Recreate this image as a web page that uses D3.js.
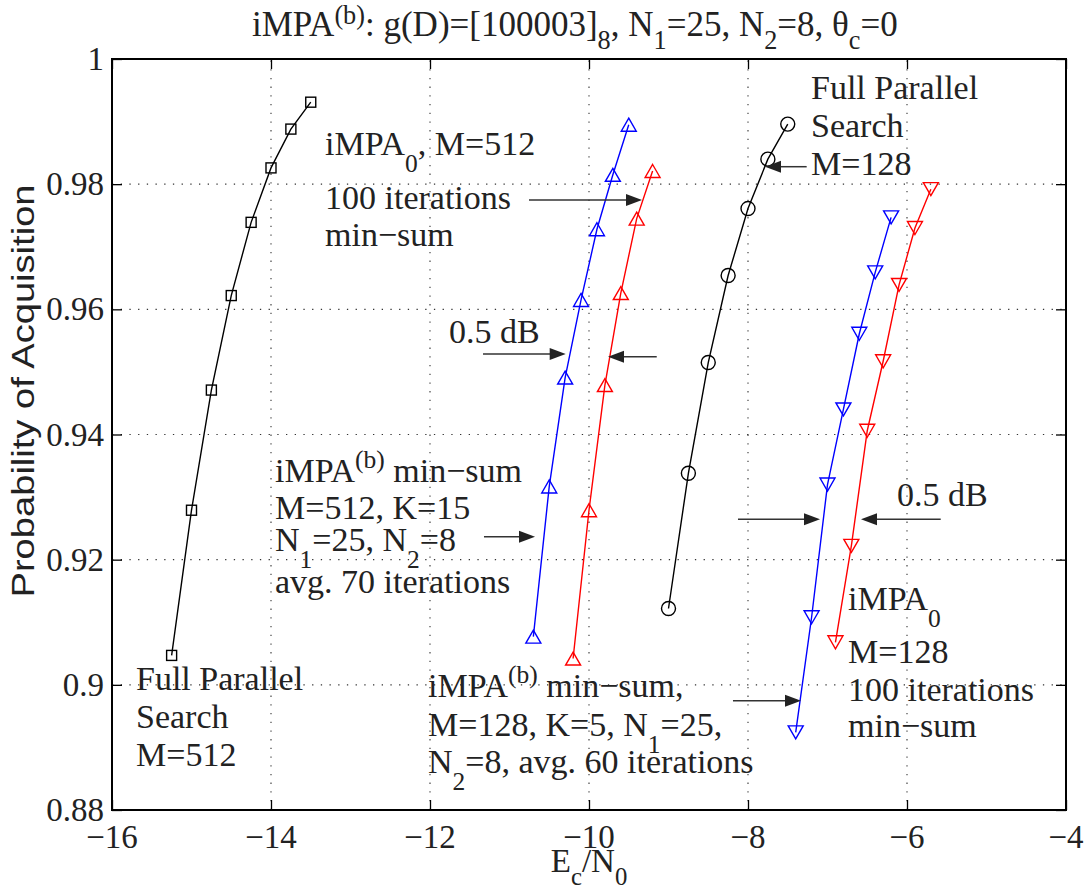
<!DOCTYPE html>
<html><head><meta charset="utf-8">
<script src="https://cdn.jsdelivr.net/npm/d3@7"></script>
<style>body{margin:0;background:#fff} svg{display:block}</style>
</head><body><svg id="c" width="1088" height="895"></svg>
<script>
// ---- data ----
const xTicks = [-16, -14, -12, -10, -8, -6, -4];
const xTickLabels = ["\u221216", "\u221214", "\u221212", "\u221210", "\u22128", "\u22126", "\u22124"];
const yTicks = [0.88, 0.9, 0.92, 0.94, 0.96, 0.98, 1];
const yTickLabels = ["0.88", "0.9", "0.92", "0.94", "0.96", "0.98", "1"];

const fps512X = [-15.25, -15, -14.75, -14.5, -14.25, -14, -13.75, -13.5];
const fps512Y = [0.9047, 0.9279, 0.9471, 0.9622, 0.9739, 0.9826, 0.9888, 0.9931];
const impab512X = [-10.7, -10.5, -10.3, -10.1, -9.9, -9.7, -9.5];
const impab512Y = [0.9077, 0.9317, 0.9491, 0.9615, 0.9728, 0.9815, 0.9895];
const impa0512X = [-10.2, -10.0, -9.8, -9.6, -9.4, -9.2];
const impa0512Y = [0.9042, 0.9279, 0.9479, 0.9626, 0.9745, 0.9821];
const fps128X = [-9, -8.75, -8.5, -8.25, -8, -7.75, -7.5];
const fps128Y = [0.9122, 0.9338, 0.9515, 0.9654, 0.9761, 0.984, 0.9896];
const impab128X = [-7.4, -7.2, -7.0, -6.8, -6.6, -6.4, -6.2];
const impab128Y = [0.8924, 0.9108, 0.932, 0.944, 0.9561, 0.9659, 0.9747];
const impa0128X = [-6.9, -6.7, -6.5, -6.3, -6.1, -5.9, -5.7];
const impa0128Y = [0.9068, 0.9222, 0.9406, 0.9517, 0.9639, 0.973, 0.9792];

// arrows (data units): [x1, x2, y]
const arrows = [
  [-10.755, -9.333, 0.97747],
  [-7.262, -7.786, 0.98279],
  [-11.333, -10.293, 0.95286],
  [-9.148, -9.761, 0.95243],
  [-11.321, -10.679, 0.92367],
  [-8.126, -7.094, 0.92645],
  [-5.576, -6.579, 0.92645],
  [-8.189, -7.333, 0.89746]
];

// ---- layout ----
const W = 1088, H = 895;
const L = 112, R = 1066, T = 59, B = 810;
const FS = 34;
const serif = "'Liberation Serif','Times New Roman',serif";
const svg = d3.select("#c");
const x = d3.scaleLinear().domain([-16, -4]).range([L, R]);
const y = d3.scaleLinear().domain([0.88, 1]).range([B, T]);

// grid
const grid = svg.append("g").attr("stroke", "#333").attr("stroke-width", 1.1).attr("stroke-dasharray", "1.3,7.4");
xTicks.slice(1, -1).forEach(v => grid.append("line").attr("x1", x(v)).attr("x2", x(v)).attr("y1", B).attr("y2", T));
yTicks.slice(1, -1).forEach(v => grid.append("line").attr("x1", L).attr("x2", R).attr("y1", y(v)).attr("y2", y(v)));

// axes with inward ticks
const axG = svg.append("g");
axG.append("g").attr("transform", `translate(0,${B})`).call(d3.axisBottom(x).tickValues(xTicks).tickSizeInner(-10).tickSizeOuter(0).tickFormat(""));
axG.append("g").attr("transform", `translate(0,${T})`).call(d3.axisTop(x).tickValues(xTicks).tickSizeInner(-10).tickSizeOuter(0).tickFormat(""));
axG.append("g").attr("transform", `translate(${L},0)`).call(d3.axisLeft(y).tickValues(yTicks).tickSizeInner(-10).tickSizeOuter(0).tickFormat(""));
axG.append("g").attr("transform", `translate(${R},0)`).call(d3.axisRight(y).tickValues(yTicks).tickSizeInner(-10).tickSizeOuter(0).tickFormat(""));
axG.selectAll(".domain").remove();
axG.selectAll(".tick line").attr("stroke", "#000").attr("stroke-width", 1.3);
svg.append("rect").attr("x", L).attr("y", T).attr("width", R - L).attr("height", B - T)
  .attr("fill", "none").attr("stroke", "#000").attr("stroke-width", 2);

// tick labels
const tl = svg.append("g").attr("font-family", serif).attr("font-size", 33).attr("fill", "#222");
xTicks.forEach((v, i) => tl.append("text").attr("x", x(v)).attr("y", 848).attr("text-anchor", "middle").text(xTickLabels[i]));
yTicks.forEach((v, i) => tl.append("text").attr("x", 104).attr("y", y(v) + 11).attr("text-anchor", "end").text(yTickLabels[i]));

// series
const series = [
  {xs: fps512X, ys: fps512Y, color: "#000", m: "square"},
  {xs: impab512X, ys: impab512Y, color: "#0000ff", m: "up"},
  {xs: impa0512X, ys: impa0512Y, color: "#ff0000", m: "up"},
  {xs: fps128X, ys: fps128Y, color: "#000", m: "circle"},
  {xs: impab128X, ys: impab128Y, color: "#0000ff", m: "down"},
  {xs: impa0128X, ys: impa0128Y, color: "#ff0000", m: "down"}
];
const line = d3.line().x(d => x(d[0])).y(d => y(d[1]));
series.forEach(s => {
  const pts = s.xs.map((v, i) => [v, s.ys[i]]);
  const g = svg.append("g");
  g.append("path").attr("d", line(pts)).attr("fill", "none").attr("stroke", s.color).attr("stroke-width", 1.4);
  pts.forEach(p => {
    const cx = x(p[0]), cy = y(p[1]);
    let el;
    if (s.m === "square") el = g.append("rect").attr("x", cx - 5).attr("y", cy - 5).attr("width", 10).attr("height", 10);
    else if (s.m === "circle") el = g.append("circle").attr("cx", cx).attr("cy", cy).attr("r", 7);
    else if (s.m === "up") el = g.append("path").attr("d", `M${cx},${cy - 6.5}L${cx + 7.5},${cy + 6.5}L${cx - 7.5},${cy + 6.5}Z`);
    else el = g.append("path").attr("d", `M${cx},${cy + 6.5}L${cx + 7.5},${cy - 6.5}L${cx - 7.5},${cy - 6.5}Z`);
    el.attr("fill", "none").attr("stroke", s.color).attr("stroke-width", 1.4);
  });
});

// arrows
arrows.forEach(a => {
  const x1 = x(a[0]), x2 = x(a[1]), yy = y(a[2]);
  const dir = Math.sign(x2 - x1);
  const g = svg.append("g");
  g.append("line").attr("x1", x1).attr("x2", x2 - dir * 12).attr("y1", yy).attr("y2", yy).attr("stroke", "#333").attr("stroke-width", 1.5);
  g.append("path").attr("d", `M${x2},${yy}L${x2 - dir * 16},${yy - 6}L${x2 - dir * 16},${yy + 6}Z`).attr("fill", "#222");
});

// rich text helper
function rich(px, py, parts, anchor, size, subDrop, supRise) {
  const fs = size || FS;
  const drop = subDrop || 0.5;
  const rise = supRise || 0.4;
  const t = svg.append("text").attr("x", px).attr("y", py).attr("font-family", serif)
    .attr("font-size", fs).attr("fill", "#222").attr("text-anchor", anchor || "start");
  let off = 0;
  parts.forEach(p => {
    const [s, type] = typeof p === "string" ? [p, null] : p;
    const target = type === "sub" ? drop * fs : type === "sup" ? -rise * fs : 0;
    const ts = t.append("tspan").attr("dy", target - off).text(s);
    if (type) ts.attr("font-size", fs * 0.75);
    off = target;
  });
  return t;
}

// title
rich(252, 36, ["iMPA", ["(b)", "sup"], ": g(D)=[100003]", ["8", "sub"], ", N", ["1", "sub"], "=25, N", ["2", "sub"], "=8, \u03b8", ["c", "sub"], "=0"], "start", 35, 0.38, 0.33);

// axis labels
rich((L + R) / 2, 872, ["E", ["c", "sub"], "/N", ["0", "sub"]], "middle", 33, 0.4);
svg.append("text").attr("transform", `translate(34,391) rotate(-90)`).attr("text-anchor", "middle")
  .attr("font-family", "'Liberation Sans',Arial,sans-serif").attr("font-size", 31).attr("fill", "#222")
  .attr("textLength", 413).attr("lengthAdjust", "spacingAndGlyphs")
  .text("Probability of Acquisition");

// annotations
rich(325, 155, ["iMPA", ["0", "sub"], ", M=512"]);
rich(325, 209, ["100 iterations"]);
rich(325, 246, ["min\u2212sum"]);

rich(811, 99, ["Full Parallel"]);
rich(811, 137, ["Search"]);
rich(811, 175, ["M=128"]);

rich(449, 343, ["0.5 dB"]);

rich(275, 482, ["iMPA", ["(b)", "sup"], " min\u2212sum"]);
rich(275, 519, ["M=512, K=15"]);
rich(275, 551, ["N", ["1", "sub"], "=25, N", ["2", "sub"], "=8"]);
rich(275, 593, ["avg. 70 iterations"]);

rich(897, 506, ["0.5 dB"]);

rich(848, 610, ["iMPA", ["0", "sub"]]);
rich(848, 663, ["M=128"]);
rich(848, 701, ["100 iterations"]);
rich(848, 737, ["min\u2212sum"]);

rich(428, 697, ["iMPA", ["(b)", "sup"], " min\u2212sum,"]);
rich(428, 736, ["M=128, K=5, N", ["1", "sub"], "=25,"]);
rich(428, 773, ["N", ["2", "sub"], "=8, avg. 60 iterations"]);

rich(136, 690, ["Full Parallel"]);
rich(136, 728, ["Search"]);
rich(136, 766, ["M=512"]);
</script>
</body></html>
